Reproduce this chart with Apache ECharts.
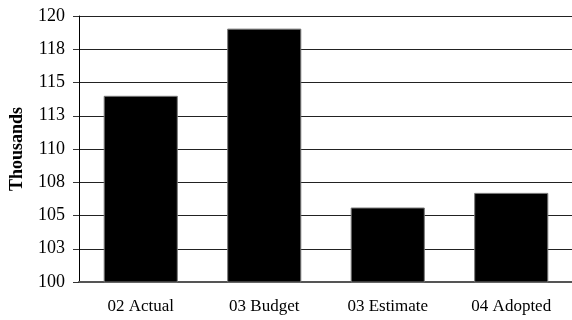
<!DOCTYPE html>
<html>
<head>
<meta charset="utf-8">
<script src="https://cdn.jsdelivr.net/npm/echarts@6/dist/echarts.min.js"></script>
<style>
  html, body { margin: 0; padding: 0; background: #fff; }
  #chart { width: 572px; height: 320px; }
</style>
</head>
<body>
<div id="chart"></div>
<script>
var categories = ['02 Actual', '03 Budget', '03 Estimate', '04 Adopted'];
var values = [114.0, 119.05, 105.6, 106.7];
var yMin = 100, yMax = 120, yStep = 2.5;

var myChart = echarts.init(document.getElementById('chart'));

var font = '"Liberation Serif", "DejaVu Serif", serif';

var option = {
    animation: false,
    grid: { left: 79, right: -1, top: 16, bottom: 38, outerBoundsMode: 'none', containLabel: false },
    xAxis: {
        type: 'category',
        data: categories,
        axisLine: { lineStyle: { color: '#555', width: 2 } },
        axisTick: { show: false },
        axisLabel: { color: '#000', fontFamily: font, fontSize: 17, margin: 16 }
    },
    yAxis: {
        type: 'value',
        min: yMin,
        max: yMax,
        interval: yStep,
        name: 'Thousands',
        nameLocation: 'middle',
        nameGap: 53,
        nameTextStyle: { color: '#000', fontFamily: font, fontSize: 18, fontWeight: 'bold' },
        axisLine: { show: true, lineStyle: { color: '#000', width: 1 } },
        axisTick: { show: true, length: 6, lineStyle: { color: '#333' } },
        axisLabel: {
            color: '#000', fontFamily: font, fontSize: 18, margin: 14,
            formatter: function (v) { return Math.round(v); }
        },
        splitLine: { lineStyle: { color: '#222', width: 1 } }
    },
    series: [{
        type: 'bar',
        data: values,
        barWidth: '60%',
        itemStyle: { color: '#000', borderColor: '#777', borderWidth: 1 }
    }]
};

myChart.setOption(option);
</script>
</body>
</html>
